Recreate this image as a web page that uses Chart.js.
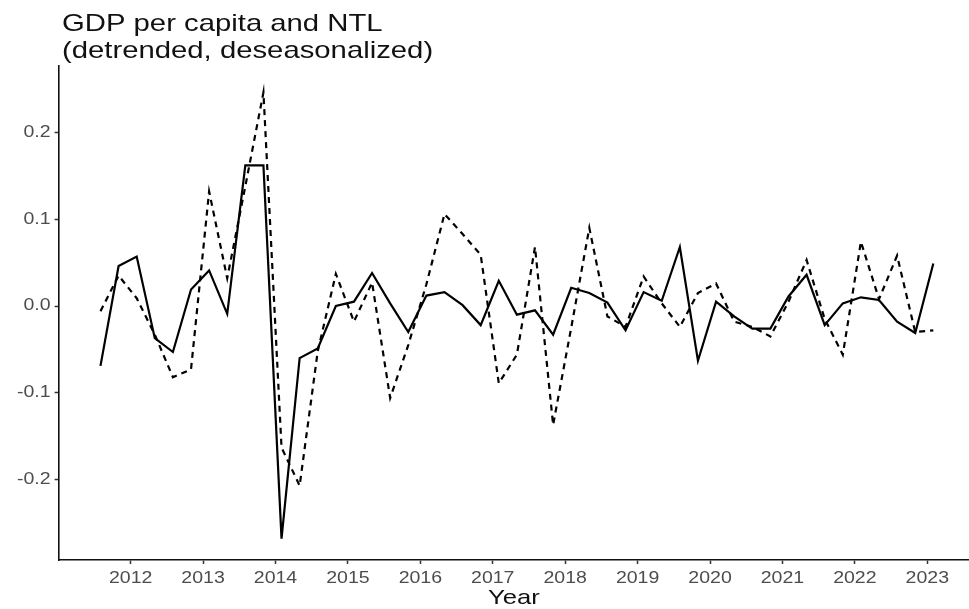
<!DOCTYPE html>
<html>
<head>
<meta charset="utf-8">
<script src="https://cdn.jsdelivr.net/npm/chart.js@4.4.1/dist/chart.umd.min.js"></script>
<style>
html,body{margin:0;padding:0;background:#fff;}
canvas{display:block;}
</style>
</head>
<body>
<canvas id="c" width="969" height="609"></canvas>
<script>
// ---- data ----
const quarters = [
  "2011-08","2011-11",
  "2012-02","2012-05","2012-08","2012-11",
  "2013-02","2013-05","2013-08","2013-11",
  "2014-02","2014-05","2014-08","2014-11",
  "2015-02","2015-05","2015-08","2015-11",
  "2016-02","2016-05","2016-08","2016-11",
  "2017-02","2017-05","2017-08","2017-11",
  "2018-02","2018-05","2018-08","2018-11",
  "2019-02","2019-05","2019-08","2019-11",
  "2020-02","2020-05","2020-08","2020-11",
  "2021-02","2021-05","2021-08","2021-11",
  "2022-02","2022-05","2022-08","2022-11",
  "2023-02"
];
const gdpPerCapita = [
  -0.069, 0.046,
  0.057, -0.037, -0.053, 0.019,
  0.041, -0.009, 0.162, 0.162,
  -0.268, -0.060, -0.049, 0.000,
  0.005, 0.038, 0.003, -0.030,
  0.012, 0.016, 0.001, -0.022,
  0.029, -0.010, -0.005, -0.033,
  0.021, 0.015, 0.004, -0.028,
  0.016, 0.006, 0.068, -0.063,
  0.005, -0.012, -0.026, -0.026,
  0.011, 0.036, -0.022, 0.003,
  0.010, 0.007, -0.018, -0.031,
  0.049
];
const ntl = [
  -0.006, 0.035,
  0.009, -0.033, -0.082, -0.073,
  0.132, 0.032, 0.138, 0.246,
  -0.163, -0.207, -0.052, 0.037,
  -0.018, 0.027, -0.106, -0.045,
  0.025, 0.106, 0.083, 0.059,
  -0.089, -0.056, 0.068, -0.137,
  -0.025, 0.090, -0.012, -0.024,
  0.034, 0.003, -0.024, 0.015,
  0.026, -0.018, -0.024, -0.035,
  0.005, 0.053, -0.015, -0.056,
  0.074, 0.008, 0.058, -0.030,
  -0.028
];
const xTickYears = [2012,2013,2014,2015,2016,2017,2018,2019,2020,2021,2022,2023];
const yTickValues = [-0.2,-0.1,0.0,0.1,0.2];
const titleLines = ["GDP per capita and NTL", "(detrended, deseasonalized)"];
const xAxisTitle = "Year";

// ---- helpers ----
const FONT = '"Liberation Sans", Arial, Helvetica, sans-serif';
const TEXT_STRETCH = 1.22; // reference text is horizontally wide
function toYear(s){ const p = s.split("-").map(Number); return p[0] + (p[1]-1)/12; }
function toPoints(vals){ return quarters.map((q,i)=>({x: toYear(q), y: vals[i]})); }

const canvas = document.getElementById("c");
const ctx = canvas.getContext("2d");
const origFillText = ctx.fillText.bind(ctx);
ctx.fillText = function(text, x, y, maxWidth){
  ctx.save();
  ctx.translate(x, y);
  ctx.scale(TEXT_STRETCH, 1);
  if (maxWidth !== undefined && maxWidth !== null) origFillText(text, 0, 0, maxWidth / TEXT_STRETCH);
  else origFillText(text, 0, 0);
  ctx.restore();
};

const titlePlugin = {
  id: "plotTitle",
  afterDraw(chart){
    const c = chart.ctx;
    c.save();
    c.font = "24px " + FONT;
    c.fillStyle = "#111";
    c.textAlign = "left";
    c.textBaseline = "alphabetic";
    titleLines.forEach((t,i)=> c.fillText(t, 62, 31 + i*26.5));
    c.restore();
  }
};

const axisGrid = { display: true, drawOnChartArea: false, drawTicks: true, tickLength: 4, tickColor: "#333", tickWidth: 1.5 };
const axisBorder = { display: true, color: "#111", width: 1.6 };

new Chart(ctx, {
  type: "line",
  data: {
    datasets: [
      { label: "GDP per capita", data: toPoints(gdpPerCapita), borderColor: "#000", borderWidth: 2.2, pointRadius: 0, tension: 0, fill: false },
      { label: "NTL", data: toPoints(ntl), borderColor: "#000", borderWidth: 2.2, borderDash: [6,5], pointRadius: 0, tension: 0, fill: false }
    ]
  },
  options: {
    responsive: false,
    animation: false,
    devicePixelRatio: 1,
    layout: { padding: { top: 66, left: 0, right: 0, bottom: 0 } },
    plugins: { legend: { display: false }, tooltip: { enabled: false }, title: { display: false } },
    scales: {
      x: {
        type: "linear",
        min: 2011.005,
        max: 2023.576,
        afterBuildTicks: s => { s.ticks = xTickYears.map(v => ({ value: v })); },
        afterFit: s => { s.height = 49; },
        ticks: { color: "#4d4d4d", font: { size: 16, family: FONT }, padding: 5, maxRotation: 0, autoSkip: false, callback: v => String(v) },
        grid: axisGrid,
        border: axisBorder,
        title: { display: true, text: xAxisTitle, color: "#111", font: { size: 21, family: FONT, lineHeight: 1.0 }, padding: { top: 0, bottom: 0 } }
      },
      y: {
        type: "linear",
        min: -0.2926,
        max: 0.2765,
        afterBuildTicks: s => { s.ticks = yTickValues.map(v => ({ value: v })); },
        afterFit: s => { s.width = 58.6; },
        ticks: { color: "#4d4d4d", font: { size: 16, family: FONT }, padding: 4, callback: v => Number(v).toFixed(1) },
        grid: axisGrid,
        border: axisBorder
      }
    }
  },
  plugins: [titlePlugin]
});
</script>
</body>
</html>
